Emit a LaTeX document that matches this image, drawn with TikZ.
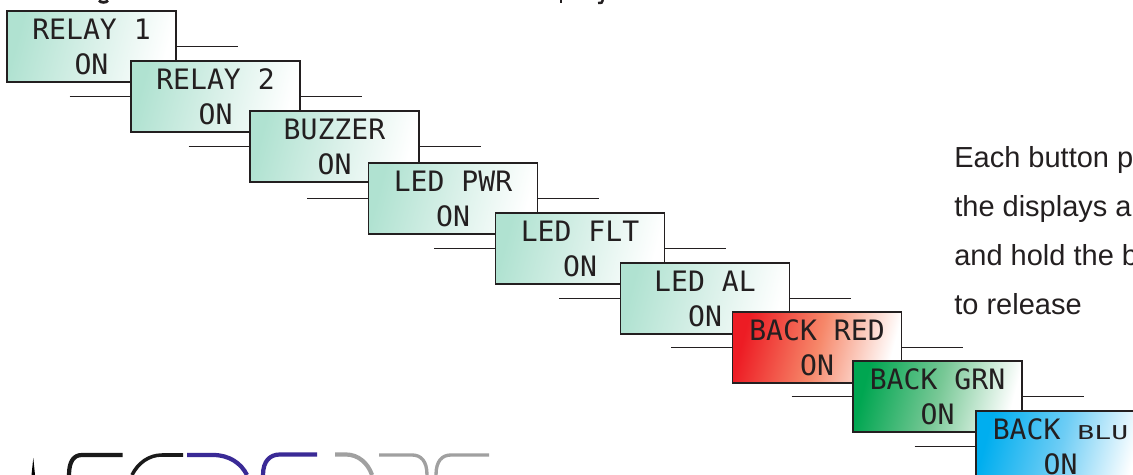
\documentclass[tikz,border=0pt]{standalone}
\usepackage{graphicx}
\usepackage{fontspec}
\setmainfont{Liberation Sans}
\newfontfamily\lcdfont{DejaVu Sans Mono}
\usepackage{xcolor}
\definecolor{lcdteal}{RGB}{176,226,209}
\definecolor{lcdtealmid}{RGB}{216,240,232}
\definecolor{lcdred}{RGB}{237,28,36}
\definecolor{lcdredmid}{RGB}{246,135,105}
\definecolor{lcdgreen}{RGB}{0,166,81}
\definecolor{lcdgreenmid}{RGB}{120,200,150}
\definecolor{lcdblue}{RGB}{0,174,239}
\definecolor{lcdbluemid}{RGB}{110,205,245}
\definecolor{inkblack}{RGB}{35,31,32}
\definecolor{logoblack}{RGB}{26,26,26}
\definecolor{logoblue}{RGB}{58,42,150}
\definecolor{logogray}{RGB}{160,160,160}
\usetikzlibrary{positioning}

\tikzset{
  lcdbox/.style={draw=inkblack, line width=0.6pt, minimum width=3.38cm, minimum height=1.42cm,
    inner sep=0pt, align=center, font=\lcdfont\fontsize{16}{20}\selectfont, text=inkblack,
    left color=#1, right color=white, middle color=#1mid, shading angle=75},
  stubline/.style={inkblack, line width=0.6pt},
  bodytext/.style={anchor=base west, inner sep=0pt, font=\fontsize{16.5}{20}\selectfont, text=inkblack},
  logostroke/.style={line width=2.4pt, line cap=butt}
}

\begin{document}
\begin{tikzpicture}[x=0.02cm, y=-0.02cm]
  \useasboundingbox (0,0) rectangle (1133,475);
  \clip (0,0) rectangle (1133,475);

  % Display screens, each one over the one before
  \foreach \name/\x/\y/\label/\col in {
    relayA/91.5/46.5/RELAY 1/lcdteal,
    relayB/215.5/96.5/RELAY 2/lcdteal,
    buzzer/334.5/146.5/BUZZER/lcdteal,
    ledpwr/453/198.5/LED PWR/lcdteal,
    ledflt/580/248.5/LED FLT/lcdteal,
    ledal/705/298.5/LED AL/lcdteal,
    backred/817/347.5/BACK RED/lcdred,
    backgrn/937.5/396.5/BACK GRN/lcdgreen,
    backblu/1060.5/446.5/BACK \scalebox{1}[0.68]{BLU}/lcdblue} {
    \node[lcdbox=\col] (\name) at (\x,\y) {\rule{0pt}{12pt}\label\\ON};
  }

  % Stubs on the left
  \foreach \name in {relayB, buzzer, ledpwr, ledflt, ledal, backred, backgrn, backblu} {
    \coordinate[left=1.22cm of \name.west] (\name in);
    \draw[stubline] (\name in) -- (\name.west);
  }
  % Stubs on the right
  \foreach \name in {relayA, relayB, buzzer, ledpwr, ledflt, ledal, backred, backgrn} {
    \coordinate[right=1.22cm of \name.east] (\name out);
    \draw[stubline] (\name.east) -- (\name out);
  }

  % Side text
  \node[bodytext] (lineA) at (954,168) {Each button p};
  \node[bodytext] (lineB) at (954,217) {the displays a};
  \node[bodytext] (lineC) at (954,266) {and hold the b};
  \node[bodytext] (lineD) at (954,315) {to release};

  % Cut line of text along the top
  \draw[inkblack, line width=1.6pt] (99,0.5) .. controls (101,3) and (106,3) .. (108,0.5);
  \draw[inkblack, line width=1.4pt] (561,0) -- (561,3);
  \draw[inkblack, line width=1.4pt] (603,0) .. controls (602,3) .. (598,3);

  % Logo strokes
  \fill[black] (31.5,475) -- (33.3,458) -- (35,475) -- cycle;
  \draw[logostroke, logoblack] (122.5,455) -- (82,455) .. controls (74,455) and (69,461) .. (69,475);
  \draw[logostroke, logoblack, line width=2pt] (183,455) -- (162,455) .. controls (149,455) and (138,463) .. (132,475);
  \draw[logostroke, logoblue] (187,455) -- (213,455) .. controls (229,455) and (241,463) .. (247,475);
  \draw[logostroke, logoblue] (317,454.5) -- (280,454.5) .. controls (270,454.5) and (263,461) .. (263,475);
  \draw[logostroke, logogray] (335,454.5) -- (346,454.5) .. controls (358,454.5) and (368,463) .. (372,475);
  \draw[logostroke, logogray, line width=1.9pt] (379,455) -- (412,455) .. controls (421,455) and (427,461) .. (427,475);
  \draw[logostroke, logogray, line width=1.9pt] (489,455) -- (451,455) .. controls (442,455) and (436,461) .. (436,475);
\end{tikzpicture}
\end{document}
